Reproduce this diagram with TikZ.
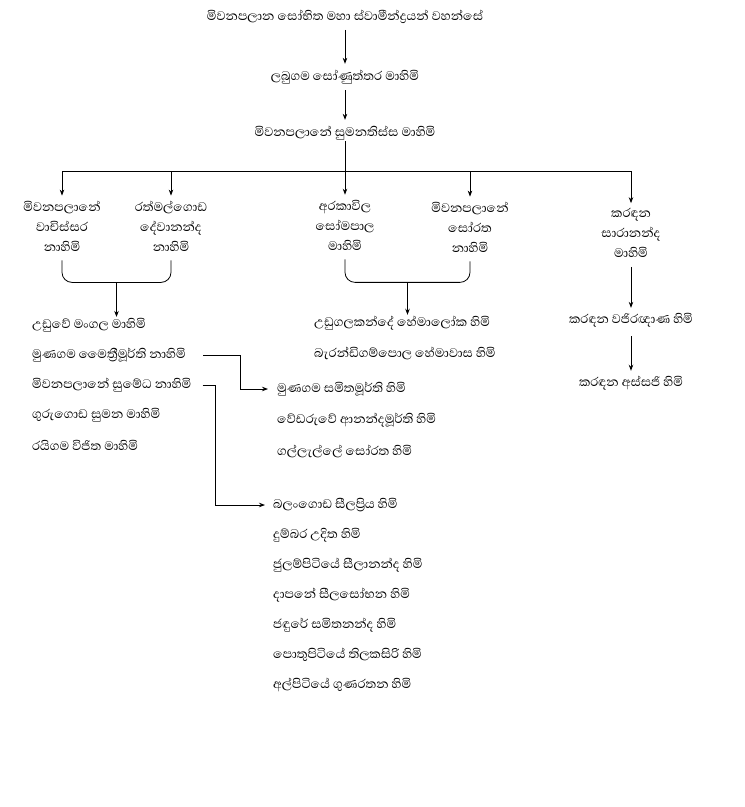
\documentclass[tikz,border=0pt]{standalone}
\usepackage{fontspec}
\newfontfamily\sinhala[Script=Sinhala]{Abhaya Libre}
\usetikzlibrary{arrows.meta,calc}

\begin{document}
\begin{tikzpicture}[x=1pt,y=-1pt,
  txt/.style={font=\sinhala\fontsize{16}{20}\selectfont,inner sep=1pt,align=center},
  item/.style={txt,anchor=west},
  arr/.style={-{Stealth[length=6pt,width=4.5pt]},line width=.8pt}]
\useasboundingbox (0,0) rectangle (745,807);
\node[txt] (top) at (345,17) {මිවනපලාන සෝභිත මහා ස්වාමීන්ද්‍රයන් වහන්සේ};
\node[txt] (labu) at (345,77) {ලබුගම සෝණුත්තර මාහිමි};
\node[txt] (suma) at (345,133) {මිවනපලානේ සුමනතිස්ස මාහිමි};
\coordinate (hub) at (345,171);
\node[txt] (c1) at (62,226) {මිවනපලානේ\\වාචිස්සර\\නාහිමි};
\node[txt] (c2) at (171,226) {රත්මල්ගොඩ\\දේවානන්ද\\නාහිමි};
\node[txt] (c3) at (345,225) {අරකාවිල\\සෝමපාල\\මාහිමි};
\node[txt] (c4) at (470,227) {මිවනපලානේ\\සෝරත\\නාහිමි};
\node[txt] (c5) at (631,233) {කරඳන\\සාරානන්ද\\මාහිමි};
\node[txt] (k1) at (631,320) {කරඳන වජිරඥාණ හිමි};
\node[txt] (k2) at (631,383) {කරඳන අස්සජි හිමි};
% lists
\foreach \t [count=\i] in {උඩුවේ මංගල මාහිමි,මුණගම මෛත්‍රීමූර්ති නාහිමි,
    මිවනපලානේ සුමේධ නාහිමි,ගුරුගොඩ සුමන මාහිමි,රයිගම විජිත මාහිමි}
  \node[item] (l\i) at (31,295+30*\i) {\t};
\node[item] (u1) at (313,323) {උඩුගලකන්දේ හේමාලෝක හිමි};
\node[item] (u2) at (313,353) {බැරන්ඩිගම්පොල හේමාවාස හිමි};
\foreach \t [count=\i] in {මුණගම සමිතමූර්ති හිමි,වේඩරුවේ ආනන්දමූර්ති හිමි,ගල්ලැල්ලේ සෝරත හිමි}
  \node[item] (m\i) at (276,358+31*\i) {\t};
\foreach \t [count=\i] in {බලංගොඩ සීලප්‍රිය හිමි,දුම්බර උදිත හිමි,ජුලම්පිටියේ සීලානන්ද හිමි,
    දාපනේ සීලසෝභන හිමි,ජඳුරේ සමිතනන්ද හිමි,පොතුපිටියේ තිලකසිරි හිමි,අල්පිටියේ ගුණරතන හිමි}
  \node[item] (n\i) at (272,475+30*\i) {\t};
% top chain
\draw[arr,shorten <=5pt,shorten >=5pt] (top) -- (labu);
\draw[arr,shorten <=5pt,shorten >=5pt] (labu) -- (suma);
\draw[arr,shorten >=4pt] (suma) -- (c3);
\draw[arr,shorten >=4pt] (hub) -| (c1);
\draw[arr,shorten >=4pt] (hub) -| (c5);
\draw[arr,shorten >=4pt] (hub -| c2) -- (c2);
\draw[arr,shorten >=4pt] (hub -| c4) -- (c4);
% brackets
\coordinate (j1) at ($(c1.south)!.5!(c2.south)+(0,30)$);
\coordinate (j2) at ($(c3.south)!.5!(c4.south)+(0,30)$);
\draw[line width=.8pt,rounded corners=10pt] ([yshift=-8pt]c1.south) |- (j1) -| ([yshift=-8pt]c2.south);
\draw[line width=.8pt,rounded corners=10pt] ([yshift=-8pt]c3.south) |- (j2) -| ([yshift=-8pt]c4.south);
\draw[arr] (j1) -- (j1 |- l1.north);
\draw[arr] (j2) -- (j2 |- u1.north);
% right column
\draw[arr,shorten <=8pt,shorten >=4pt] (c5) -- (k1);
\draw[arr,shorten <=8pt,shorten >=4pt] (k1) -- (k2);
% cross links
\draw[arr] ([xshift=16pt]l2.east) -| ([xshift=-36pt]m1.west) -- ([xshift=-8pt]m1.west);
\draw[arr] ([xshift=10pt]l3.east) -| ([xshift=-57pt]n1.west) -- ([xshift=-7pt]n1.west);
\end{tikzpicture}
\end{document}
